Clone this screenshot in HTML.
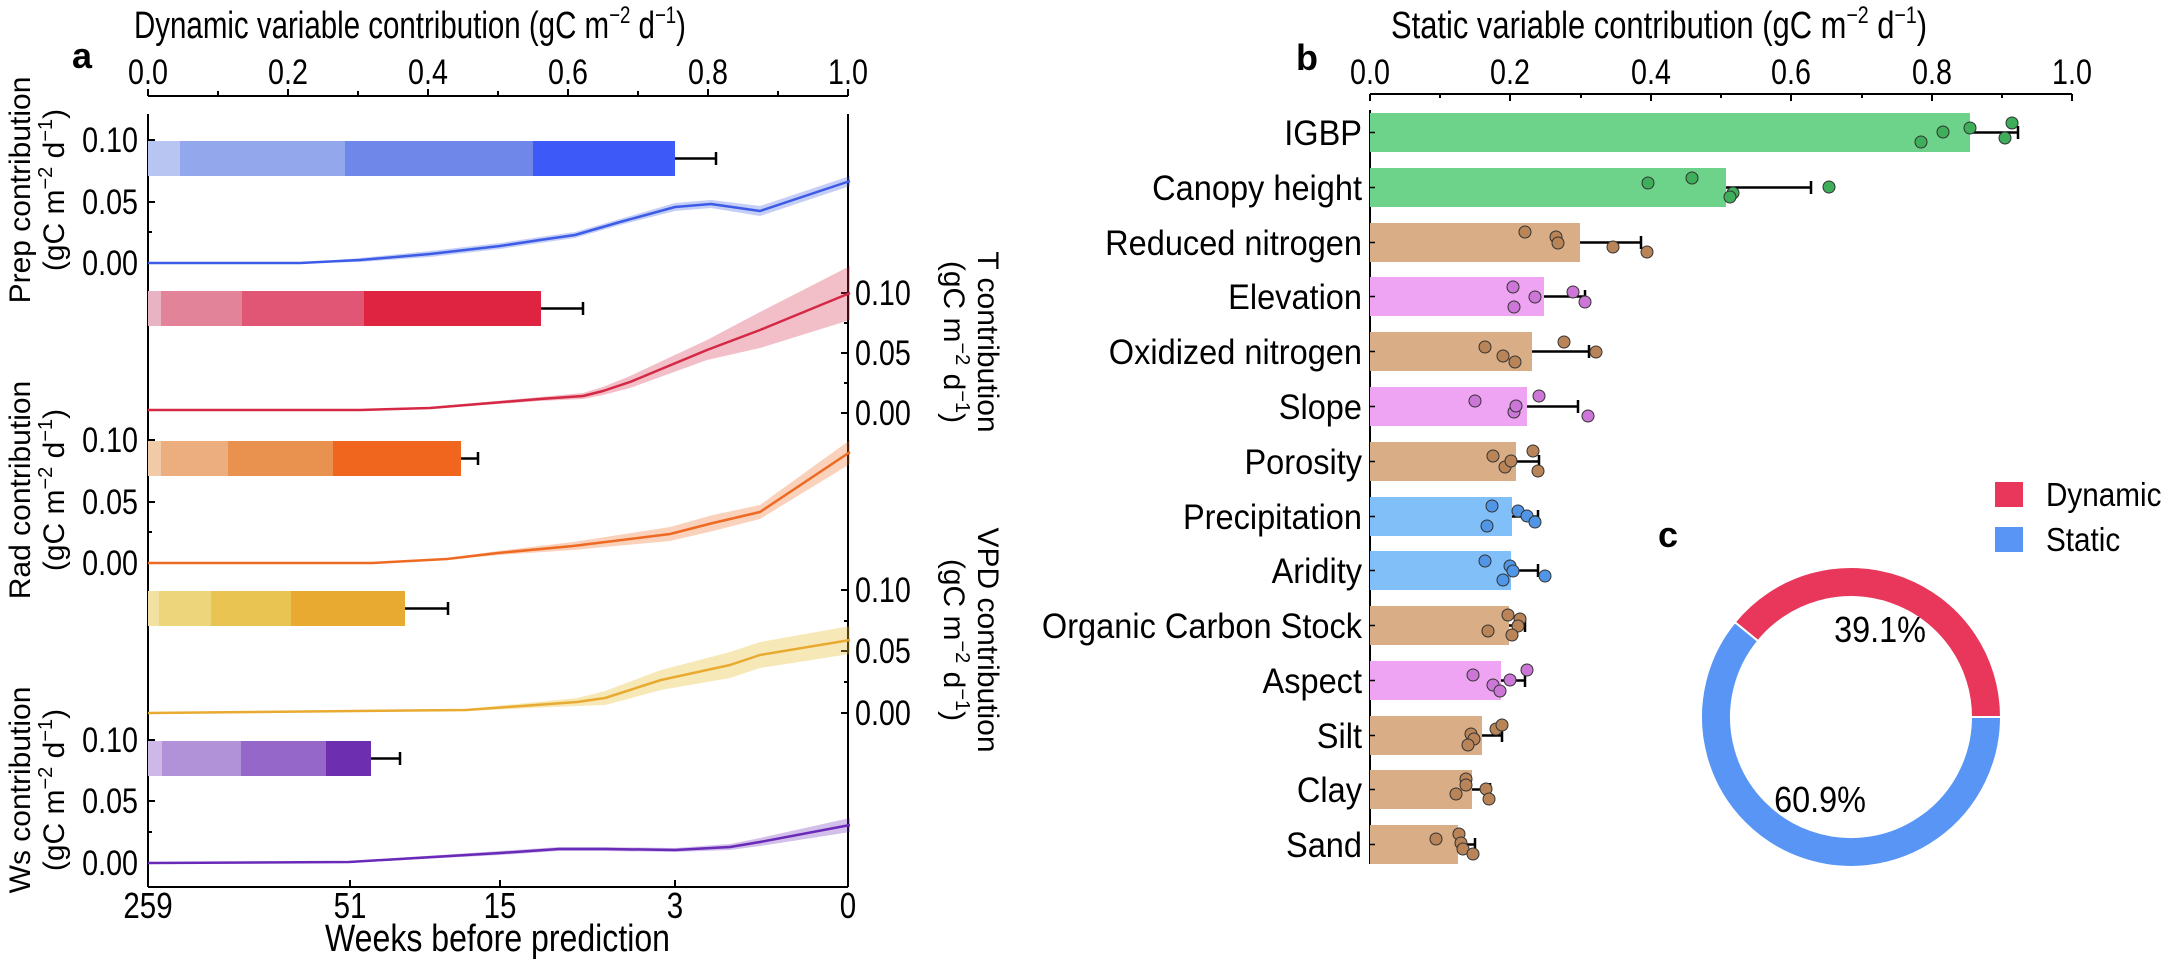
<!DOCTYPE html>
<html><head><meta charset="utf-8"><style>html,body{margin:0;padding:0;background:#fff}svg{display:block}text{font-family:"Liberation Sans",Arial,sans-serif;fill:#000}</style></head><body>
<svg width="2166" height="962" viewBox="0 0 2166 962" xmlns="http://www.w3.org/2000/svg">
<!-- PANEL A -->
<text x="134" y="38" font-size="38" textLength="552" lengthAdjust="spacingAndGlyphs">Dynamic variable contribution (gC m<tspan font-size="24" dy="-15">−2</tspan><tspan dy="15"> d</tspan><tspan font-size="24" dy="-15">−1</tspan><tspan dy="15">)</tspan></text>
<text x="72" y="68" font-size="36" font-weight="bold">a</text>
<g font-size="35" text-anchor="middle">
<text transform="translate(148,84) scale(0.82,1)">0.0</text><text transform="translate(288,84) scale(0.82,1)">0.2</text><text transform="translate(428,84) scale(0.82,1)">0.4</text><text transform="translate(568,84) scale(0.82,1)">0.6</text><text transform="translate(708,84) scale(0.82,1)">0.8</text><text transform="translate(848,84) scale(0.82,1)">1.0</text>
</g>
<g stroke="#000" stroke-width="2" fill="none">
<line x1="148" y1="96" x2="848" y2="96"/>
<path d="M148 96v-7M218 96v-5M288 96v-7M358 96v-5M428 96v-7M498 96v-5M568 96v-7M638 96v-5M708 96v-7M778 96v-5M848 96v-7"/>
<line x1="148" y1="114" x2="148" y2="887"/>
<line x1="848" y1="114" x2="848" y2="887"/>
<line x1="148" y1="887" x2="848" y2="887"/>
<path d="M148 887v-7M350 887v-7M500 887v-7M675 887v-7M848 887v-7"/>
<path d="M148 140h7M148 171h4M148 202h7M148 232h4M148 263h7 M148 440h7M148 471h4M148 502h7M148 532h4M148 563h7 M148 740h7M148 771h4M148 801h7M148 832h4M148 863h7"/>
<path d="M848 293h-7M848 323h-4M848 353h-7M848 383h-4M848 413h-7 M848 590h-7M848 621h-4M848 651h-7M848 682h-4M848 713h-7"/>
</g>
<g font-size="35" text-anchor="end">
<text transform="translate(138,152) scale(0.82,1)">0.10</text><text transform="translate(138,214) scale(0.82,1)">0.05</text><text transform="translate(138,275) scale(0.82,1)">0.00</text>
<text transform="translate(138,452) scale(0.82,1)">0.10</text><text transform="translate(138,514) scale(0.82,1)">0.05</text><text transform="translate(138,575) scale(0.82,1)">0.00</text>
<text transform="translate(138,752) scale(0.82,1)">0.10</text><text transform="translate(138,813) scale(0.82,1)">0.05</text><text transform="translate(138,875) scale(0.82,1)">0.00</text>
</g>
<g font-size="35">
<text transform="translate(855,305) scale(0.82,1)">0.10</text><text transform="translate(855,365) scale(0.82,1)">0.05</text><text transform="translate(855,425) scale(0.82,1)">0.00</text>
<text transform="translate(855,602) scale(0.82,1)">0.10</text><text transform="translate(855,663) scale(0.82,1)">0.05</text><text transform="translate(855,725) scale(0.82,1)">0.00</text>
</g>
<g font-size="36" text-anchor="middle">
<text transform="translate(148,918) scale(0.82,1)">259</text><text transform="translate(350,918) scale(0.82,1)">51</text><text transform="translate(500,918) scale(0.82,1)">15</text><text transform="translate(675,918) scale(0.82,1)">3</text><text transform="translate(848,918) scale(0.82,1)">0</text>
</g>
<text x="325" y="951" font-size="38" textLength="345" lengthAdjust="spacingAndGlyphs">Weeks before prediction</text>
<g font-size="30" text-anchor="middle">
<text transform="translate(30,190) rotate(-90)">Prep contribution</text>
<text transform="translate(64,190) rotate(-90)">(gC m<tspan font-size="20" dy="-12">−2</tspan><tspan dy="12"> d</tspan><tspan font-size="20" dy="-12">−1</tspan><tspan dy="12">)</tspan></text>
<text transform="translate(30,490) rotate(-90)">Rad contribution</text>
<text transform="translate(64,490) rotate(-90)">(gC m<tspan font-size="20" dy="-12">−2</tspan><tspan dy="12"> d</tspan><tspan font-size="20" dy="-12">−1</tspan><tspan dy="12">)</tspan></text>
<text transform="translate(30,790) rotate(-90)">Ws contribution</text>
<text transform="translate(64,790) rotate(-90)">(gC m<tspan font-size="20" dy="-12">−2</tspan><tspan dy="12"> d</tspan><tspan font-size="20" dy="-12">−1</tspan><tspan dy="12">)</tspan></text>
<text transform="translate(978,342) rotate(90)">T contribution</text>
<text transform="translate(944,342) rotate(90)">(gC m<tspan font-size="20" dy="-12">−2</tspan><tspan dy="12"> d</tspan><tspan font-size="20" dy="-12">−1</tspan><tspan dy="12">)</tspan></text>
<text transform="translate(978,640) rotate(90)">VPD contribution</text>
<text transform="translate(944,640) rotate(90)">(gC m<tspan font-size="20" dy="-12">−2</tspan><tspan dy="12"> d</tspan><tspan font-size="20" dy="-12">−1</tspan><tspan dy="12">)</tspan></text>
</g>
<rect x="148" y="141" width="32" height="35" fill="#b8c4f2"/><rect x="180" y="141" width="165" height="35" fill="#93a8ec"/><rect x="345" y="141" width="188" height="35" fill="#6e87e8"/><rect x="533" y="141" width="142" height="35" fill="#3d5af8"/>
<rect x="148" y="291" width="13" height="35" fill="#e8b3c2"/><rect x="161" y="291" width="81" height="35" fill="#e2839a"/><rect x="242" y="291" width="122" height="35" fill="#e05674"/><rect x="364" y="291" width="177" height="35" fill="#de2440"/>
<rect x="148" y="441" width="13" height="35" fill="#f1cba8"/><rect x="161" y="441" width="67" height="35" fill="#ecae7f"/><rect x="228" y="441" width="105" height="35" fill="#e9914f"/><rect x="333" y="441" width="128" height="35" fill="#f0661e"/>
<rect x="148" y="591" width="11" height="35" fill="#f1e2a2"/><rect x="159" y="591" width="52" height="35" fill="#ecd57a"/><rect x="211" y="591" width="80" height="35" fill="#e9c452"/><rect x="291" y="591" width="114" height="35" fill="#e8aa30"/>
<rect x="148" y="741" width="14" height="35" fill="#cdb8e8"/><rect x="162" y="741" width="79" height="35" fill="#b192d8"/><rect x="241" y="741" width="85" height="35" fill="#9467c8"/><rect x="326" y="741" width="45" height="35" fill="#6e2eb0"/>
<g stroke="#000" stroke-width="2.5">
<path d="M675 158.5H716M716 152v13"/><path d="M541 308.5H583M583 302v13"/><path d="M461 458.5H478M478 452v13"/><path d="M405 608.5H448M448 602v13"/><path d="M371 758.5H400M400 752v13"/>
</g>
<polygon fill="#3d5ce6" opacity="0.3" points="148,263 300,263 360,258 430,251 500,243 540,237 575,232 620,219 675,203 711,200 760,206 850,176 850,186 760,216 711,208 675,211 620,225 575,238 540,243 500,249 430,257 360,262 300,263"/>
<polyline fill="none" stroke="#3d5ce6" stroke-width="2.5" stroke-linejoin="round" points="148,263 300,263 360,260 430,254 500,246 540,240 575,235 620,222 675,207 711,204 760,211 850,181"/>
<polygon fill="#d42845" opacity="0.3" points="148,410 360,410 430,407 540,397 583,393 603,387 630,376 707,340 760,312 850,266 850,320 760,348 707,360 630,388 603,395 583,399 540,401 430,409 360,410"/>
<polyline fill="none" stroke="#d42845" stroke-width="2.5" stroke-linejoin="round" points="148,410 360,410 430,408 540,399 583,396 603,391 630,382 707,350 760,330 850,293"/>
<polygon fill="#ee6a22" opacity="0.3" points="148,563 372,563 447,558 498,551 573,542 670,527 713,515 760,505 850,440 850,464 760,519 713,531 670,541 573,550 498,555 447,560 372,563"/>
<polyline fill="none" stroke="#ee6a22" stroke-width="2.5" stroke-linejoin="round" points="148,563 372,563 447,559 498,553 573,546 670,534 713,523 760,512 850,452"/>
<polygon fill="#e8c030" opacity="0.35" points="148,713 466,709 577,698 605,691 661,670 730,652 760,642 850,626 850,654 760,668 730,678 661,690 605,705 577,706 466,711"/>
<polyline fill="none" stroke="#e8aa30" stroke-width="2.5" stroke-linejoin="round" points="148,713 466,710 577,702 605,698 661,680 730,665 760,655 850,640"/>
<polygon fill="#6a2ab8" opacity="0.3" points="148,863 349,861 500,851 559,847 605,847 675,848 730,844 760,838 850,818 850,832 760,846 730,850 675,852 605,851 559,851 500,855 349,863"/>
<polyline fill="none" stroke="#6a2ab8" stroke-width="2.5" stroke-linejoin="round" points="148,863 349,862 500,853 559,849 605,849 675,850 730,847 760,842 850,825"/>

<!-- PANEL B -->
<text x="1391" y="38" font-size="38" textLength="536" lengthAdjust="spacingAndGlyphs">Static variable contribution (gC m<tspan font-size="24" dy="-15">−2</tspan><tspan dy="15"> d</tspan><tspan font-size="24" dy="-15">−1</tspan><tspan dy="15">)</tspan></text>
<text x="1296" y="70" font-size="36" font-weight="bold">b</text>
<g font-size="35" text-anchor="middle">
<text transform="translate(1370,84) scale(0.82,1)">0.0</text><text transform="translate(1510,84) scale(0.82,1)">0.2</text><text transform="translate(1651,84) scale(0.82,1)">0.4</text><text transform="translate(1791,84) scale(0.82,1)">0.6</text><text transform="translate(1932,84) scale(0.82,1)">0.8</text><text transform="translate(2072,84) scale(0.82,1)">1.0</text>
</g>
<g stroke="#000" stroke-width="2" fill="none">
<line x1="1370" y1="94" x2="2072" y2="94"/>
<path d="M1370 94v7M1440 94v4M1510 94v7M1581 94v4M1651 94v7M1721 94v4M1791 94v7M1862 94v4M1932 94v7M2002 94v4M2072 94v7"/>
<line x1="1370" y1="110" x2="1370" y2="864"/>
</g>
<rect x="1370" y="113" width="600" height="39" fill="#6dd38a"/>
<rect x="1370" y="168" width="356" height="39" fill="#6dd38a"/>
<rect x="1370" y="223" width="210" height="39" fill="#d9ae86"/>
<rect x="1370" y="277" width="174" height="39" fill="#eea4f2"/>
<rect x="1370" y="332" width="162" height="39" fill="#d9ae86"/>
<rect x="1370" y="387" width="157" height="39" fill="#eea4f2"/>
<rect x="1370" y="442" width="146" height="39" fill="#d9ae86"/>
<rect x="1370" y="497" width="142" height="39" fill="#80bff8"/>
<rect x="1370" y="551" width="141" height="39" fill="#80bff8"/>
<rect x="1370" y="606" width="139" height="39" fill="#d9ae86"/>
<rect x="1370" y="661" width="131" height="39" fill="#eea4f2"/>
<rect x="1370" y="716" width="112" height="39" fill="#d9ae86"/>
<rect x="1370" y="770" width="102" height="39" fill="#d9ae86"/>
<rect x="1370" y="825" width="88" height="39" fill="#d9ae86"/>
<g stroke="#000" stroke-width="1.5">
<path d="M1370 132.5h5M1370 187.5h5M1370 242.5h5M1370 296.5h5M1370 351.5h5M1370 406.5h5M1370 461.5h5M1370 516.5h5M1370 570.5h5M1370 625.5h5M1370 680.5h5M1370 735.5h5M1370 789.5h5M1370 844.5h5"/>
</g>
<g font-size="35" text-anchor="end">
<text transform="translate(1362,145) scale(0.93,1)">IGBP</text>
<text transform="translate(1362,200) scale(0.93,1)">Canopy height</text>
<text transform="translate(1362,255) scale(0.93,1)">Reduced nitrogen</text>
<text transform="translate(1362,309) scale(0.93,1)">Elevation</text>
<text transform="translate(1362,364) scale(0.93,1)">Oxidized nitrogen</text>
<text transform="translate(1362,419) scale(0.93,1)">Slope</text>
<text transform="translate(1362,474) scale(0.93,1)">Porosity</text>
<text transform="translate(1362,529) scale(0.93,1)">Precipitation</text>
<text transform="translate(1362,583) scale(0.93,1)">Aridity</text>
<text transform="translate(1362,638) scale(0.93,1)">Organic Carbon Stock</text>
<text transform="translate(1362,693) scale(0.93,1)">Aspect</text>
<text transform="translate(1362,748) scale(0.93,1)">Silt</text>
<text transform="translate(1362,802) scale(0.93,1)">Clay</text>
<text transform="translate(1362,857) scale(0.93,1)">Sand</text>
</g>
<g stroke="#000" stroke-width="2.5">
<path d="M1970 132.5H2018M2018 126v13"/>
<path d="M1726 187.5H1811M1811 181v13"/>
<path d="M1580 242.5H1641M1641 236v13"/>
<path d="M1544 296.5H1585M1585 290v13"/>
<path d="M1532 351.5H1589M1589 345v13"/>
<path d="M1527 406.5H1578M1578 400v13"/>
<path d="M1516 461.5H1539M1539 455v13"/>
<path d="M1512 516.5H1538M1538 510v13"/>
<path d="M1511 570.5H1538M1538 564v13"/>
<path d="M1509 625.5H1525M1525 619v13"/>
<path d="M1501 680.5H1525M1525 674v13"/>
<path d="M1482 735.5H1502M1502 729v13"/>
<path d="M1472 789.5H1490M1490 783v13"/>
<path d="M1458 844.5H1475M1475 838v13"/>
</g>
<g stroke="#333" stroke-width="1">
<g fill="#3fae5a">
<circle cx="1921" cy="142" r="6"/><circle cx="1943" cy="132" r="6"/><circle cx="1970" cy="128" r="6"/><circle cx="2005" cy="138" r="6"/><circle cx="2012" cy="123" r="6"/>
<circle cx="1648" cy="183" r="6"/><circle cx="1692" cy="178" r="6"/><circle cx="1733" cy="193" r="6"/><circle cx="1730" cy="197" r="6"/><circle cx="1829" cy="187" r="6"/>
</g>
<g fill="#b88458">
<circle cx="1525" cy="232" r="6"/><circle cx="1556" cy="237" r="6"/><circle cx="1558" cy="243" r="6"/><circle cx="1613" cy="247" r="6"/><circle cx="1647" cy="252" r="6"/>
<circle cx="1485" cy="347" r="6"/><circle cx="1503" cy="356" r="6"/><circle cx="1515" cy="362" r="6"/><circle cx="1564" cy="342" r="6"/><circle cx="1596" cy="352" r="6"/>
<circle cx="1493" cy="456" r="6"/><circle cx="1505" cy="467" r="6"/><circle cx="1511" cy="461" r="6"/><circle cx="1533" cy="451" r="6"/><circle cx="1538" cy="471" r="6"/>
<circle cx="1488" cy="631" r="6"/><circle cx="1508" cy="615" r="6"/><circle cx="1520" cy="619" r="6"/><circle cx="1518" cy="626" r="6"/><circle cx="1512" cy="635" r="6"/>
<circle cx="1471" cy="734" r="6"/><circle cx="1474" cy="739" r="6"/><circle cx="1468" cy="745" r="6"/><circle cx="1496" cy="729" r="6"/><circle cx="1502" cy="725" r="6"/>
<circle cx="1456" cy="794" r="6"/><circle cx="1466" cy="779" r="6"/><circle cx="1466" cy="785" r="6"/><circle cx="1486" cy="789" r="6"/><circle cx="1489" cy="799" r="6"/>
<circle cx="1436" cy="839" r="6"/><circle cx="1459" cy="834" r="6"/><circle cx="1461" cy="843" r="6"/><circle cx="1463" cy="849" r="6"/><circle cx="1473" cy="854" r="6"/>
</g>
<g fill="#cc77d8">
<circle cx="1513" cy="287" r="6"/><circle cx="1514" cy="307" r="6"/><circle cx="1535" cy="297" r="6"/><circle cx="1573" cy="292" r="6"/><circle cx="1585" cy="302" r="6"/>
<circle cx="1475" cy="401" r="6"/><circle cx="1514" cy="412" r="6"/><circle cx="1516" cy="406" r="6"/><circle cx="1539" cy="396" r="6"/><circle cx="1588" cy="416" r="6"/>
<circle cx="1473" cy="675" r="6"/><circle cx="1493" cy="685" r="6"/><circle cx="1500" cy="691" r="6"/><circle cx="1510" cy="680" r="6"/><circle cx="1527" cy="670" r="6"/>
</g>
<g fill="#5095e6">
<circle cx="1492" cy="506" r="6"/><circle cx="1487" cy="526" r="6"/><circle cx="1518" cy="511" r="6"/><circle cx="1527" cy="516" r="6"/><circle cx="1535" cy="522" r="6"/>
<circle cx="1485" cy="561" r="6"/><circle cx="1503" cy="580" r="6"/><circle cx="1510" cy="566" r="6"/><circle cx="1513" cy="571" r="6"/><circle cx="1545" cy="576" r="6"/>
</g>
</g>

<!-- PANEL C -->
<text x="1658" y="547" font-size="36" font-weight="bold">c</text>
<path d="M2001 717A150 150 0 0 0 1734.8 622.1L1758.1 641.1A120 120 0 0 1 1971 717Z" fill="#e8375a" stroke="#fff" stroke-width="2"/>
<path d="M1734.8 622.1A150 150 0 1 0 2001 717L1971 717A120 120 0 1 1 1758.1 641.1Z" fill="#5895f5" stroke="#fff" stroke-width="2"/>
<text transform="translate(1880,642) scale(0.9,1)" font-size="36" text-anchor="middle">39.1%</text>
<text transform="translate(1820,812) scale(0.9,1)" font-size="36" text-anchor="middle">60.9%</text>
<rect x="1995" y="482" width="28" height="25" fill="#e8375a"/>
<rect x="1995" y="527" width="28" height="25" fill="#5895f5"/>
<text transform="translate(2046,506) scale(0.9,1)" font-size="33">Dynamic</text>
<text transform="translate(2046,551) scale(0.9,1)" font-size="33">Static</text>
</svg>
</body></html>
